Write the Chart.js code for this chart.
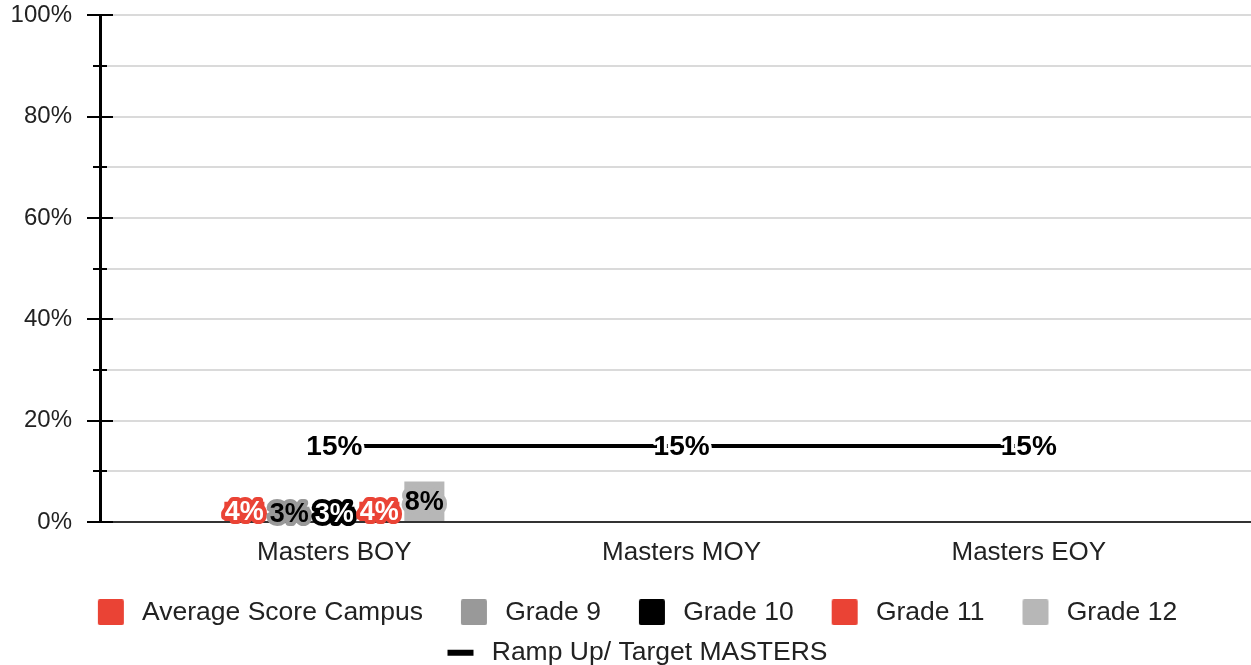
<!DOCTYPE html>
<html>
<head>
<meta charset="utf-8">
<script src="https://cdn.jsdelivr.net/npm/chart.js@4/dist/chart.umd.min.js"></script>
<style>
html,body{margin:0;padding:0;overflow:hidden;background:#fff}
canvas{display:block}
</style>
</head>
<body>
<canvas id="c" width="1251" height="676"></canvas>
<script>
// ---- data ----
const categories = ['Masters BOY', 'Masters MOY', 'Masters EOY'];
const averageScoreCampus = [4, null, null];
const grade9 = [3, null, null];
const grade10 = [3, null, null];
const grade11 = [4, null, null];
const grade12 = [8, null, null];
const rampUpTarget = [15, 15, 15];
const yMajorStep = 20;
const yMinorStep = 10;

// ---- styles ----
const RED = '#ea4335', GRAY = '#999999', BLACK = '#000000', LIGHT = '#b7b7b7';
const FONT = "'Liberation Sans', Arial, sans-serif";
Chart.defaults.font.family = FONT;
Chart.defaults.color = '#222';

// category scale with adjustable edge spacing
const Cat = Chart.CategoryScale;
class EdgeCategoryScale extends Cat {
  configure() {
    super.configure();
    const o = this.options;
    const n = this.max - this.min;
    this._startValue = this.min - o.edgeStart;
    this._valueRange = n + o.edgeStart + o.edgeEnd;
  }
}
EdgeCategoryScale.id = 'edgeCategory';
EdgeCategoryScale.defaults = Cat.defaults;
Chart.register(EdgeCategoryScale);

function legendIcon(ds) {
  const c = document.createElement('canvas');
  c.width = 55; c.height = 26;
  const g = c.getContext('2d');
  if (ds.type === 'line') {
    g.fillStyle = ds.borderColor;
    g.fillRect(24, 10, 26, 6);
  } else {
    g.fillStyle = ds.backgroundColor;
    g.beginPath();
    if (g.roundRect) g.roundRect(24, 0, 26, 26, 2); else g.rect(24, 0, 26, 26);
    g.fill();
  }
  return c;
}

const valueLabels = {
  id: 'valueLabels',
  afterDatasetsDraw(chart) {
    const ctx = chart.ctx;
    ctx.save();
    chart.data.datasets.forEach((ds, di) => {
      const meta = chart.getDatasetMeta(di);
      if (meta.hidden) return;
      meta.data.forEach((el, i) => {
        const v = ds.data[i];
        if (v === null || v === undefined) return;
        const text = v + '%';
        const x = el.x;
        const y = meta.type === 'bar' ? (el.y + el.base) / 2 : el.y;
        ctx.font = ds.labelFont;
        ctx.textAlign = 'center';
        ctx.textBaseline = 'middle';
        ctx.lineJoin = 'round';
        ctx.lineWidth = ds.labelStrokeWidth;
        ctx.strokeStyle = ds.labelStroke;
        ctx.strokeText(text, x, y + 1);
        ctx.fillStyle = ds.labelColor;
        ctx.fillText(text, x, y + 1);
      });
    });
    ctx.restore();
  }
};

const axisTicks = {
  id: 'axisTicks',
  afterDraw(chart) {
    const ctx = chart.ctx;
    const ys = chart.scales.y;
    const x0 = chart.chartArea.left;
    ctx.save();
    ctx.strokeStyle = '#000';
    ctx.lineWidth = 2;
    ys.ticks.forEach(t => {
      const py = Math.round(ys.getPixelForValue(t.value));
      const half = (t.value % yMajorStep === 0) ? 13 : 7;
      ctx.beginPath();
      ctx.moveTo(x0 - half, py);
      ctx.lineTo(x0 + half, py);
      ctx.stroke();
    });
    ctx.restore();
  }
};

const barLabelFont = "bold 27px " + FONT;

new Chart(document.getElementById('c'), {
  data: {
    labels: categories,
    datasets: [
      { type: 'bar', label: 'Average Score Campus', data: averageScoreCampus, backgroundColor: RED, labelColor: '#fff', labelStroke: RED, labelStrokeWidth: 8, labelFont: barLabelFont },
      { type: 'bar', label: 'Grade 9', data: grade9, backgroundColor: GRAY, labelColor: '#000', labelStroke: GRAY, labelStrokeWidth: 8, labelFont: barLabelFont },
      { type: 'bar', label: 'Grade 10', data: grade10, backgroundColor: BLACK, labelColor: '#fff', labelStroke: BLACK, labelStrokeWidth: 8, labelFont: barLabelFont },
      { type: 'bar', label: 'Grade 11', data: grade11, backgroundColor: RED, labelColor: '#fff', labelStroke: RED, labelStrokeWidth: 8, labelFont: barLabelFont },
      { type: 'bar', label: 'Grade 12', data: grade12, backgroundColor: LIGHT, labelColor: '#000', labelStroke: LIGHT, labelStrokeWidth: 8, labelFont: barLabelFont },
      { type: 'line', label: 'Ramp Up/ Target MASTERS', data: rampUpTarget, borderColor: '#000', backgroundColor: '#000', borderWidth: 4, pointRadius: 0, pointHoverRadius: 0, fill: false, labelColor: '#000', labelStroke: '#fff', labelStrokeWidth: 6, labelFont: "bold 28px " + FONT }
    ]
  },
  options: {
    responsive: false,
    animation: false,
    devicePixelRatio: 1,
    layout: { padding: { top: 0, left: 0, right: 0, bottom: 0 } },
    datasets: { bar: { categoryPercentage: 0.648, barPercentage: 0.89 } },
    scales: {
      x: {
        type: 'edgeCategory',
        edgeStart: 0.675,
        edgeEnd: 0.64,
        grid: { display: true, color: 'rgba(0,0,0,0)', drawTicks: false },
        border: { display: true, color: '#333', width: 2 },
        ticks: { padding: 15, font: { size: 26 }, color: '#222' },
        afterFit(s) { s.height = 63; }
      },
      y: {
        min: 0, max: 100,
        ticks: {
          stepSize: yMinorStep, autoSkip: false, padding: 1, font: { size: 24 }, color: '#222',
          callback: v => (v % yMajorStep === 0 ? v + '%' : '')
        },
        grid: {
          drawTicks: true, tickLength: 27, tickColor: 'rgba(0,0,0,0)', lineWidth: 2,
          color: c => (c.tick && c.tick.value === 0 ? 'rgba(0,0,0,0)' : '#dadada')
        },
        border: { display: true, color: '#000', width: 3 },
        afterFit(s) { s.width = 100; }
      }
    },
    plugins: {
      tooltip: { enabled: false },
      legend: {
        position: 'bottom',
        labels: {
          usePointStyle: true,
          pointStyleWidth: 55,
          boxHeight: 26,
          padding: 14,
          color: '#222',
          font: { size: 26.5 },
          generateLabels(chart) {
            const items = Chart.defaults.plugins.legend.labels.generateLabels(chart);
            items.forEach(it => {
              it.pointStyle = legendIcon(chart.data.datasets[it.datasetIndex]);
              it.lineWidth = 0;
            });
            return items;
          }
        }
      }
    }
  },
  plugins: [valueLabels, axisTicks]
});
</script>
</body>
</html>
